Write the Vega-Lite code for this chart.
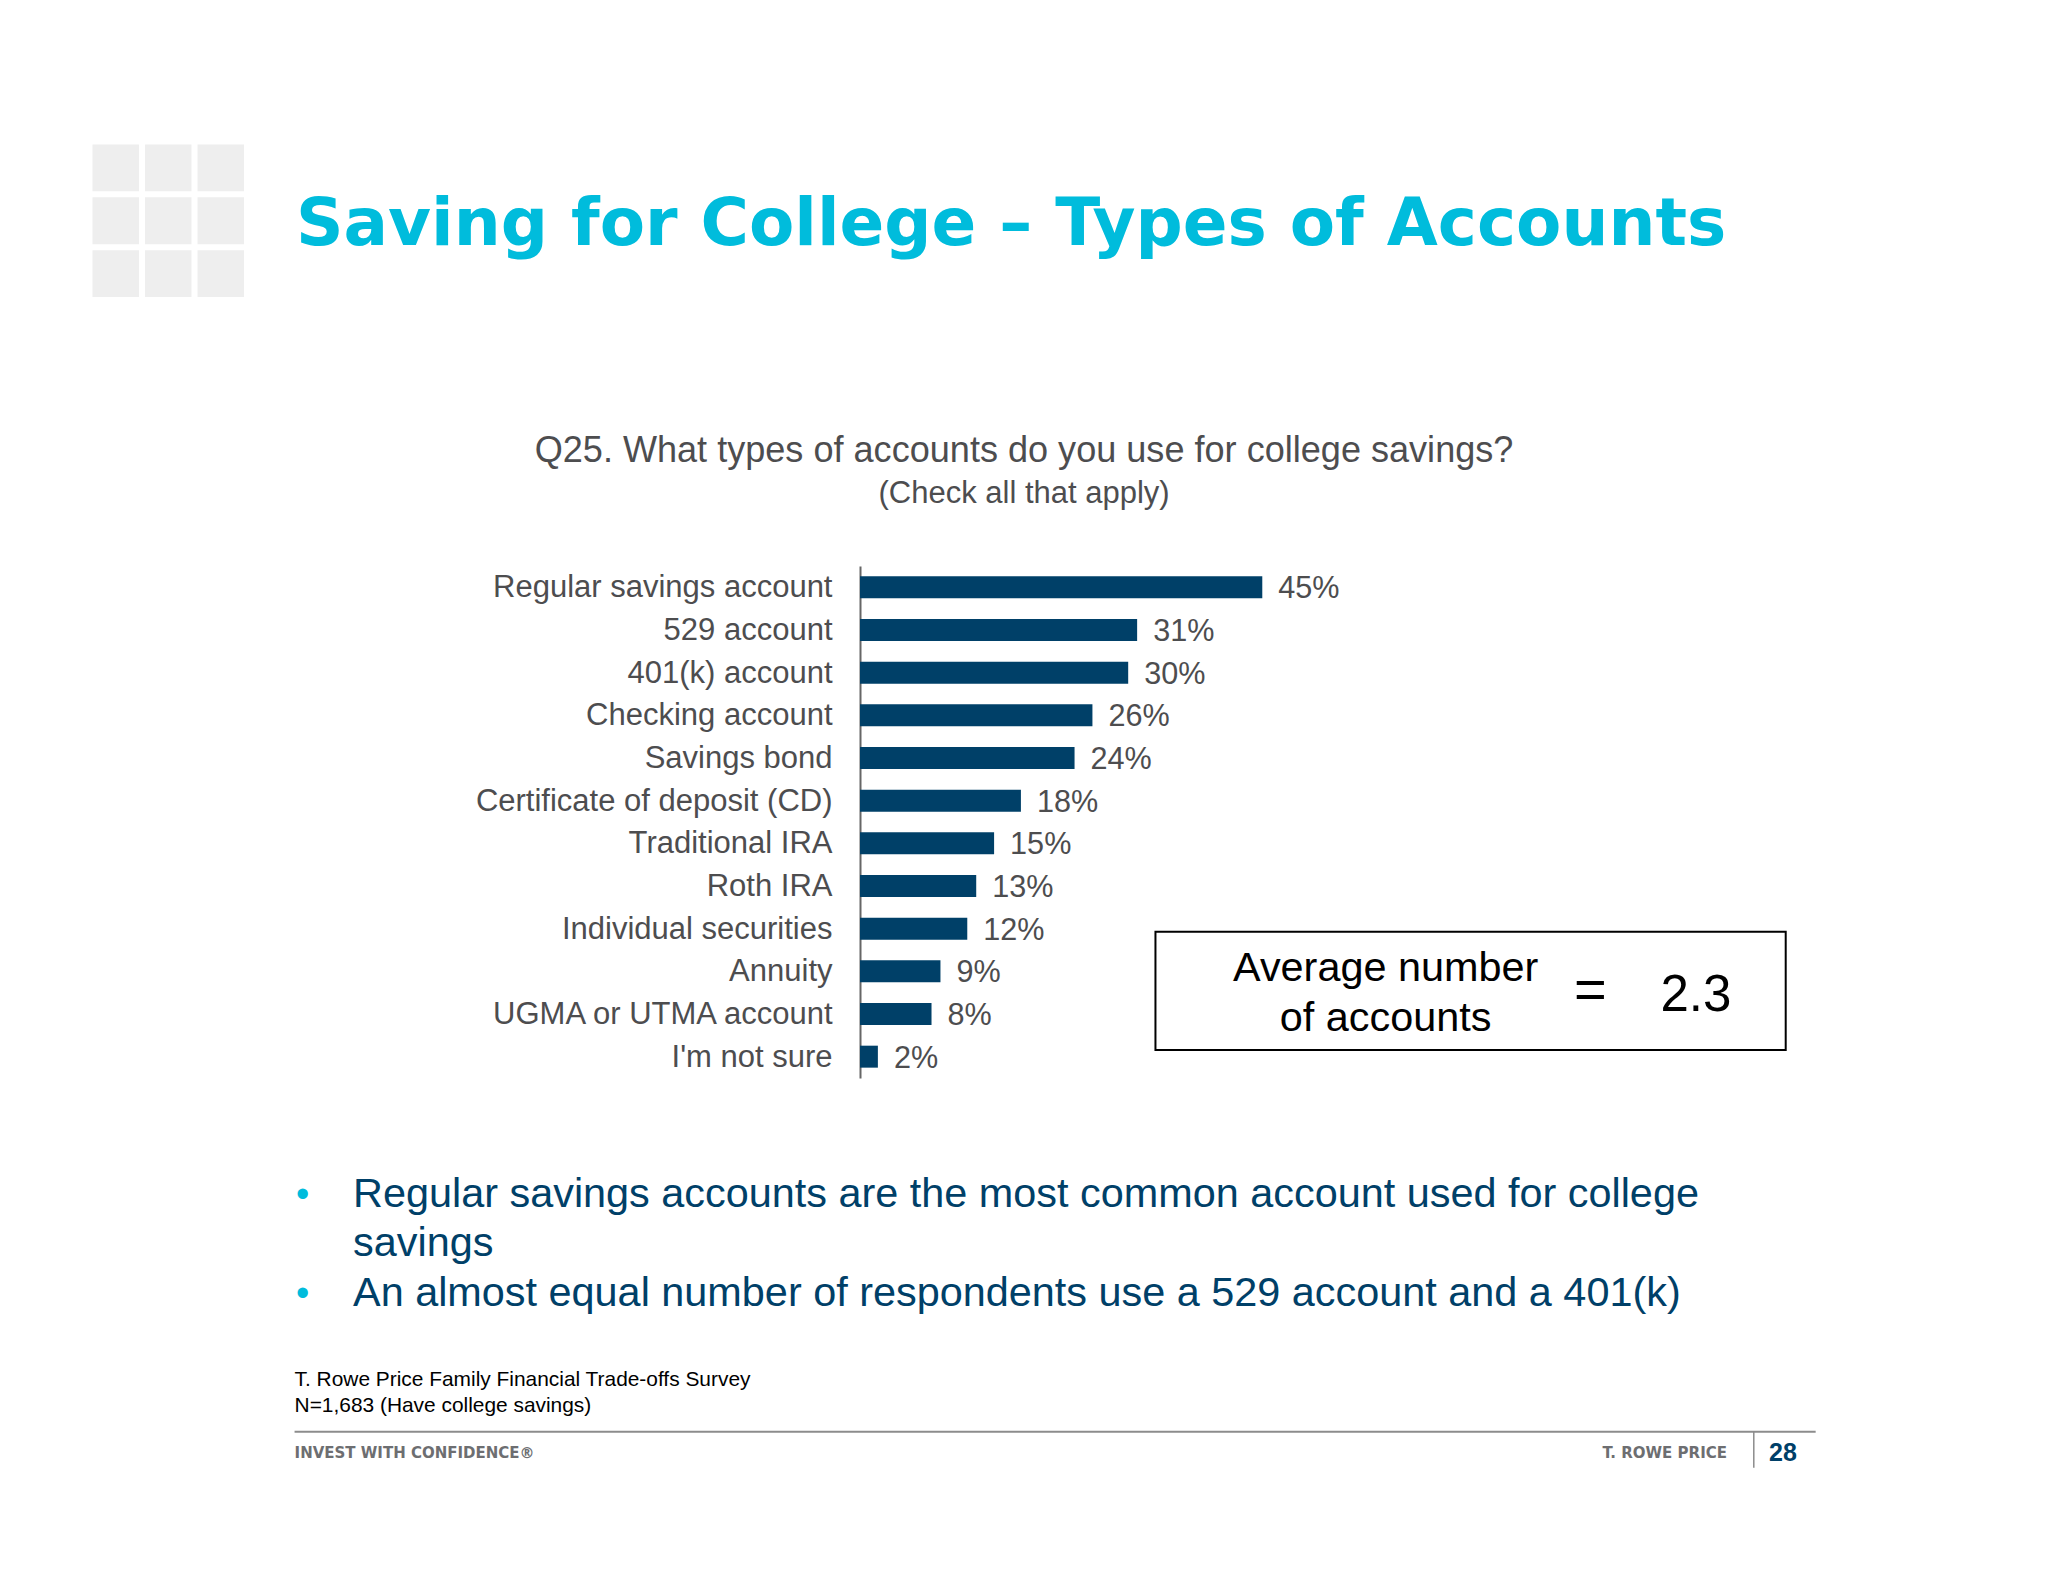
{"$schema":"https://vega.github.io/schema/vega-lite/v6.json","width":1188,"height":512,"padding":{"left":860,"top":566,"right":0,"bottom":504},"autosize":{"type":"none"},"background":"white","config":{"view":{"stroke":null},"text":{"font":"Liberation Sans"}},"title":{"text":"Saving for College – Types of Accounts","anchor":"start","frame":"group","dx":-564,"offset":-166,"baseline":"alphabetic","font":"DejaVu Sans","fontWeight":"bold","fontSize":66,"color":"#00bcdc"},"layer":[{"layer":[{"data":{"values":[{"account":"Regular savings account","share":0.45},{"account":"529 account","share":0.31},{"account":"401(k) account","share":0.30},{"account":"Checking account","share":0.26},{"account":"Savings bond","share":0.24},{"account":"Certificate of deposit (CD)","share":0.18},{"account":"Traditional IRA","share":0.15},{"account":"Roth IRA","share":0.13},{"account":"Individual securities","share":0.12},{"account":"Annuity","share":0.09},{"account":"UGMA or UTMA account","share":0.08},{"account":"I'm not sure","share":0.02}]},"layer":[{"mark":{"type":"bar","color":"#004068"},"encoding":{"y":{"field":"account","type":"nominal","sort":null,"title":null,"scale":{"domain":["Regular savings account","529 account","401(k) account","Checking account","Savings bond","Certificate of deposit (CD)","Traditional IRA","Roth IRA","Individual securities","Annuity","UGMA or UTMA account","I'm not sure"],"paddingInner":0.485,"paddingOuter":0.2425},"axis":{"domain":true,"domainColor":"#666666","domainWidth":2,"ticks":false,"labelPadding":28,"labelOffset":1,"labelFont":"Liberation Sans","labelFontSize":31,"labelColor":"#4d4d4f","labelLimit":600}},"x":{"field":"share","type":"quantitative","title":null,"axis":null,"scale":{"domain":[0,1.3289],"nice":false}}}},{"mark":{"type":"text","align":"left","baseline":"middle","dx":16,"dy":2,"fontSize":30.6,"color":"#4d4d4f"},"encoding":{"y":{"field":"account","type":"nominal","sort":null},"x":{"field":"share","type":"quantitative"},"text":{"field":"share","type":"quantitative","format":".0%"}}}]},{"data":{"values":[{"label":"Q25. What types of accounts do you use for college savings?"}]},"mark":{"type":"text","align":"center","baseline":"alphabetic","dy":-125,"fontSize":36.1,"color":"#4d4d4f"},"encoding":{"x":{"datum":0.1835},"y":{"datum":"Regular savings account"},"text":{"field":"label"}}},{"data":{"values":[{"label":"(Check all that apply)"}]},"mark":{"type":"text","align":"center","baseline":"alphabetic","dy":-84,"fontSize":31,"color":"#4d4d4f"},"encoding":{"x":{"datum":0.1835},"y":{"datum":"Regular savings account"},"text":{"field":"label"}}},{"data":{"values":[{"label":"box"}]},"mark":{"type":"rect","fill":"white","stroke":"black","strokeWidth":2,"yOffset":3,"y2Offset":36},"encoding":{"x":{"datum":0.3305},"x2":{"datum":1.0355},"y":{"datum":"Individual securities"},"y2":{"datum":"UGMA or UTMA account"}}},{"data":{"values":[{"label":"Average number"}]},"mark":{"type":"text","align":"center","baseline":"alphabetic","dy":10,"fontSize":41.4,"color":"black"},"encoding":{"x":{"datum":0.588},"y":{"datum":"Annuity"},"text":{"field":"label"}}},{"data":{"values":[{"label":"of accounts"}]},"mark":{"type":"text","align":"center","baseline":"alphabetic","dy":60,"fontSize":41.4,"color":"black"},"encoding":{"x":{"datum":0.588},"y":{"datum":"Annuity"},"text":{"field":"label"}}},{"data":{"values":[{"label":"="}]},"mark":{"type":"text","align":"center","baseline":"alphabetic","dy":37,"fontSize":56,"color":"black"},"encoding":{"x":{"datum":0.817},"y":{"datum":"Annuity"},"text":{"field":"label"}}},{"data":{"values":[{"label":"2.3"}]},"mark":{"type":"text","align":"center","baseline":"alphabetic","dy":40,"fontSize":51,"color":"black"},"encoding":{"x":{"datum":0.935},"y":{"datum":"Annuity"},"text":{"field":"label"}}},{"data":{"values":[{"label":"•"}]},"mark":{"type":"text","align":"left","baseline":"alphabetic","dy":150,"fontSize":38,"color":"#00bcdc"},"encoding":{"x":{"datum":-0.6309},"y":{"datum":"I'm not sure"},"text":{"field":"label"}}},{"data":{"values":[{"label":"Regular savings accounts are the most common account used for college"}]},"mark":{"type":"text","align":"left","baseline":"alphabetic","dy":150,"fontSize":41.4,"color":"#004068"},"encoding":{"x":{"datum":-0.5671},"y":{"datum":"I'm not sure"},"text":{"field":"label"}}},{"data":{"values":[{"label":"savings"}]},"mark":{"type":"text","align":"left","baseline":"alphabetic","dy":199,"fontSize":41.4,"color":"#004068"},"encoding":{"x":{"datum":-0.5671},"y":{"datum":"I'm not sure"},"text":{"field":"label"}}},{"data":{"values":[{"label":"•"}]},"mark":{"type":"text","align":"left","baseline":"alphabetic","dy":249,"fontSize":38,"color":"#00bcdc"},"encoding":{"x":{"datum":-0.6309},"y":{"datum":"I'm not sure"},"text":{"field":"label"}}},{"data":{"values":[{"label":"An almost equal number of respondents use a 529 account and a 401(k)"}]},"mark":{"type":"text","align":"left","baseline":"alphabetic","dy":249,"fontSize":41.4,"color":"#004068"},"encoding":{"x":{"datum":-0.5671},"y":{"datum":"I'm not sure"},"text":{"field":"label"}}},{"data":{"values":[{"label":"T. Rowe Price Family Financial Trade-offs Survey"}]},"mark":{"type":"text","align":"left","baseline":"alphabetic","dy":329,"fontSize":20.9,"color":"black"},"encoding":{"x":{"datum":-0.6325},"y":{"datum":"I'm not sure"},"text":{"field":"label"}}},{"data":{"values":[{"label":"N=1,683 (Have college savings)"}]},"mark":{"type":"text","align":"left","baseline":"alphabetic","dy":355,"fontSize":20.9,"color":"black"},"encoding":{"x":{"datum":-0.6325},"y":{"datum":"I'm not sure"},"text":{"field":"label"}}},{"data":{"values":[{"label":"footer"}]},"mark":{"type":"rule","color":"#8c8c8c","strokeWidth":2,"yOffset":375},"encoding":{"x":{"datum":-0.6325},"x2":{"datum":1.069},"y":{"datum":"I'm not sure"}}},{"data":{"values":[{"label":"footer"}]},"mark":{"type":"rule","color":"#8c8c8c","strokeWidth":1.5,"yOffset":375,"y2Offset":411},"encoding":{"x":{"datum":0.9998},"y":{"datum":"I'm not sure"},"y2":{"datum":"I'm not sure"}}},{"data":{"values":[{"label":"INVEST WITH CONFIDENCE®"}]},"mark":{"type":"text","align":"left","baseline":"middle","dy":396,"font":"DejaVu Sans","fontWeight":"bold","fontSize":15,"color":"#6d6e71"},"encoding":{"x":{"datum":-0.6325},"y":{"datum":"I'm not sure"},"text":{"field":"label"}}},{"data":{"values":[{"label":"T. ROWE PRICE"}]},"mark":{"type":"text","align":"right","baseline":"middle","dy":396,"font":"DejaVu Sans","fontWeight":"bold","fontSize":15,"color":"#6d6e71"},"encoding":{"x":{"datum":0.9698},"y":{"datum":"I'm not sure"},"text":{"field":"label"}}},{"data":{"values":[{"label":"28"}]},"mark":{"type":"text","align":"center","baseline":"middle","dy":396,"font":"Liberation Sans","fontWeight":"bold","fontSize":25,"color":"#004068"},"encoding":{"x":{"datum":1.0325},"y":{"datum":"I'm not sure"},"text":{"field":"label"}}}]},{"data":{"values":[{"col":1,"row":1},{"col":2,"row":1},{"col":3,"row":1},{"col":1,"row":2},{"col":2,"row":2},{"col":3,"row":2},{"col":1,"row":3},{"col":2,"row":3},{"col":3,"row":3}]},"mark":{"type":"rect","color":"#eeeeee"},"encoding":{"x":{"field":"col","type":"ordinal","axis":null,"scale":{"type":"band","range":[-767.5,-616],"paddingInner":0.115,"paddingOuter":0}},"y":{"field":"row","type":"ordinal","axis":null,"scale":{"type":"band","range":[-421.5,-269],"paddingInner":0.115,"paddingOuter":0}}}}],"resolve":{"scale":{"x":"independent","y":"independent"}}}
